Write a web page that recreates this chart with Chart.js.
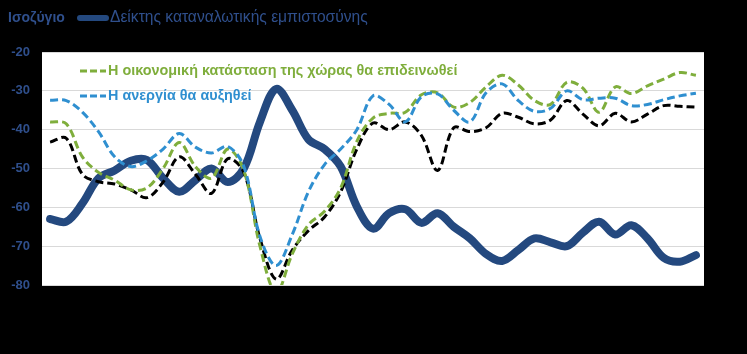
<!DOCTYPE html>
<html>
<head>
<meta charset="utf-8">
<script src="https://cdn.jsdelivr.net/npm/chart.js@4"></script>
<style>
    html, body { margin: 0; padding: 0; background: #000; }
    #wrap { width: 747px; height: 354px; }
</style>
</head>
<body>
<div id="wrap"><canvas id="chart"></canvas></div>
<script>
// monthly observations, x labels are not shown on the original
const periods = Array.from({ length: 41 }, (_, i) => String(i + 1));

const confidence = [-63, -63.7, -59, -52.5, -50.5, -48, -47.8, -52.5, -56, -53,
    -50, -53.5, -50, -38, -29.5, -35, -42.5, -45, -49.5, -59.8,
    -65.5, -61.5, -60.5, -64, -61.5, -65, -68, -72, -73.8, -71,
    -68, -69, -70, -66.5, -63.7, -67, -64.6, -68, -73, -74, -72.3];

const economy = [-38, -38.5, -47, -51, -53, -55.5, -55, -50, -43.3, -49.5,
    -52.5, -45, -50.5, -70, -82, -72, -64.5, -61, -55, -43,
    -37, -35.8, -35.5, -31, -30.5, -34.2, -33, -29, -26, -28.5,
    -32.5, -33.5, -27.8, -29.3, -35.5, -29, -30.7, -28.7, -27, -25.3, -26];

const unemployment = [-32.4, -32.5, -35.5, -40.5, -47, -49.5, -48, -45, -41, -44.5,
    -46, -44.3, -49.5, -67.5, -75, -67, -56, -49, -45, -40,
    -31.3, -33.5, -38, -31.5, -30.8, -35, -38, -30.5, -28.2, -32.5,
    -35.3, -34.5, -30, -32.3, -31.9, -31.9, -33.8, -33.5, -32.3, -31.3, -30.6];

const other_question = [-43.2, -42.2, -51.5, -53.4, -54, -55.5, -57.5, -53.5, -47, -51.5,
    -56.4, -47.5, -51, -68, -78.5, -71, -66, -62.5, -56, -45,
    -38.3, -40, -38, -41.5, -50.5, -39.5, -40.5, -39.5, -35.8, -36.8,
    -38.5, -37.5, -32.5, -36, -39, -35.8, -38, -36, -33.8, -34, -34.2];

const y_ticks = { min: -80, max: -20, step: 10 };

const navy = '#24497f';
const green = '#7fae3c';
const light_blue = '#2f8fd0';
const label_blue = '#2f4f8c';
const font_family = '"Liberation Sans", Arial, sans-serif';

const background = {
    id: 'background',
    beforeDraw(chart) {
        const { ctx, chartArea: a } = chart;
        ctx.save();
        ctx.fillStyle = '#000';
        ctx.fillRect(0, 0, chart.width, chart.height);
        ctx.fillStyle = '#fff';
        ctx.fillRect(a.left, a.top, a.right - a.left, a.bottom - a.top);
        ctx.restore();
    }
};

function sample(ctx, x1, x2, y, color, width, dash) {
    ctx.beginPath();
    ctx.strokeStyle = color;
    ctx.lineWidth = width;
    ctx.setLineDash(dash);
    ctx.lineCap = dash.length ? 'butt' : 'round';
    ctx.moveTo(x1, y);
    ctx.lineTo(x2, y);
    ctx.stroke();
    ctx.setLineDash([]);
}

const legends = {
    id: 'legends',
    afterDraw(chart) {
        const ctx = chart.ctx;
        ctx.save();
        ctx.textBaseline = 'middle';
        ctx.textAlign = 'left';

        ctx.fillStyle = label_blue;
        ctx.font = 'bold 14px ' + font_family;
        ctx.fillText('Ισοζύγιο', 8, 18);

        sample(ctx, 80, 106, 18, navy, 6, []);
        ctx.fillStyle = label_blue;
        ctx.font = '15.6px ' + font_family;
        ctx.fillText('Δείκτης καταναλωτικής εμπιστοσύνης', 110, 18);

        sample(ctx, 80, 106, 71, green, 3, [7, 3]);
        ctx.fillStyle = green;
        ctx.font = 'bold 14.4px ' + font_family;
        ctx.fillText('Η οικονομική κατάσταση της χώρας θα επιδεινωθεί', 108, 71);

        sample(ctx, 80, 106, 96, light_blue, 3, [7, 3]);
        ctx.fillStyle = light_blue;
        ctx.fillText('Η ανεργία θα αυξηθεί', 108, 96);
        ctx.restore();
    }
};

new Chart(document.getElementById('chart'), {
    type: 'line',
    data: {
        labels: periods,
        datasets: [
            {
                label: 'Η ανεργία θα αυξηθεί',
                data: unemployment,
                borderColor: light_blue,
                borderWidth: 3,
                borderDash: [8, 4],
                order: 0
            },
            {
                label: 'Η οικονομική κατάσταση της χώρας θα επιδεινωθεί',
                data: economy,
                borderColor: green,
                borderWidth: 3,
                borderDash: [8, 4],
                order: 1
            },
            {
                label: '',
                data: other_question,
                borderColor: '#000',
                borderWidth: 3,
                borderDash: [8, 4],
                order: 2
            },
            {
                label: 'Δείκτης καταναλωτικής εμπιστοσύνης',
                data: confidence,
                borderColor: navy,
                borderWidth: 8,
                borderCapStyle: 'round',
                borderJoinStyle: 'round',
                order: 3
            }
        ]
    },
    options: {
        responsive: true,
        maintainAspectRatio: false,
        devicePixelRatio: 1,
        animation: false,
        layout: { padding: { top: 52, right: 43, bottom: 69, left: 0 } },
        elements: {
            point: { radius: 0 },
            line: { tension: 0.35, fill: false }
        },
        datasets: { line: { clip: 0 } },
        plugins: {
            legend: { display: false },
            tooltip: { enabled: false }
        },
        scales: {
            x: {
                offset: true,
                ticks: { display: false },
                grid: { display: false },
                border: { display: false },
                afterFit: (scale) => { scale.height = 0; }
            },
            y: {
                min: y_ticks.min,
                max: y_ticks.max,
                ticks: {
                    stepSize: y_ticks.step,
                    color: label_blue,
                    padding: 12,
                    font: { family: font_family, size: 13, weight: 'bold' }
                },
                grid: { color: '#d9d9d9', drawTicks: false },
                border: { display: false },
                afterFit: (scale) => { scale.width = 42; }
            }
        }
    },
    plugins: [background, legends]
});
</script>
</body>
</html>
